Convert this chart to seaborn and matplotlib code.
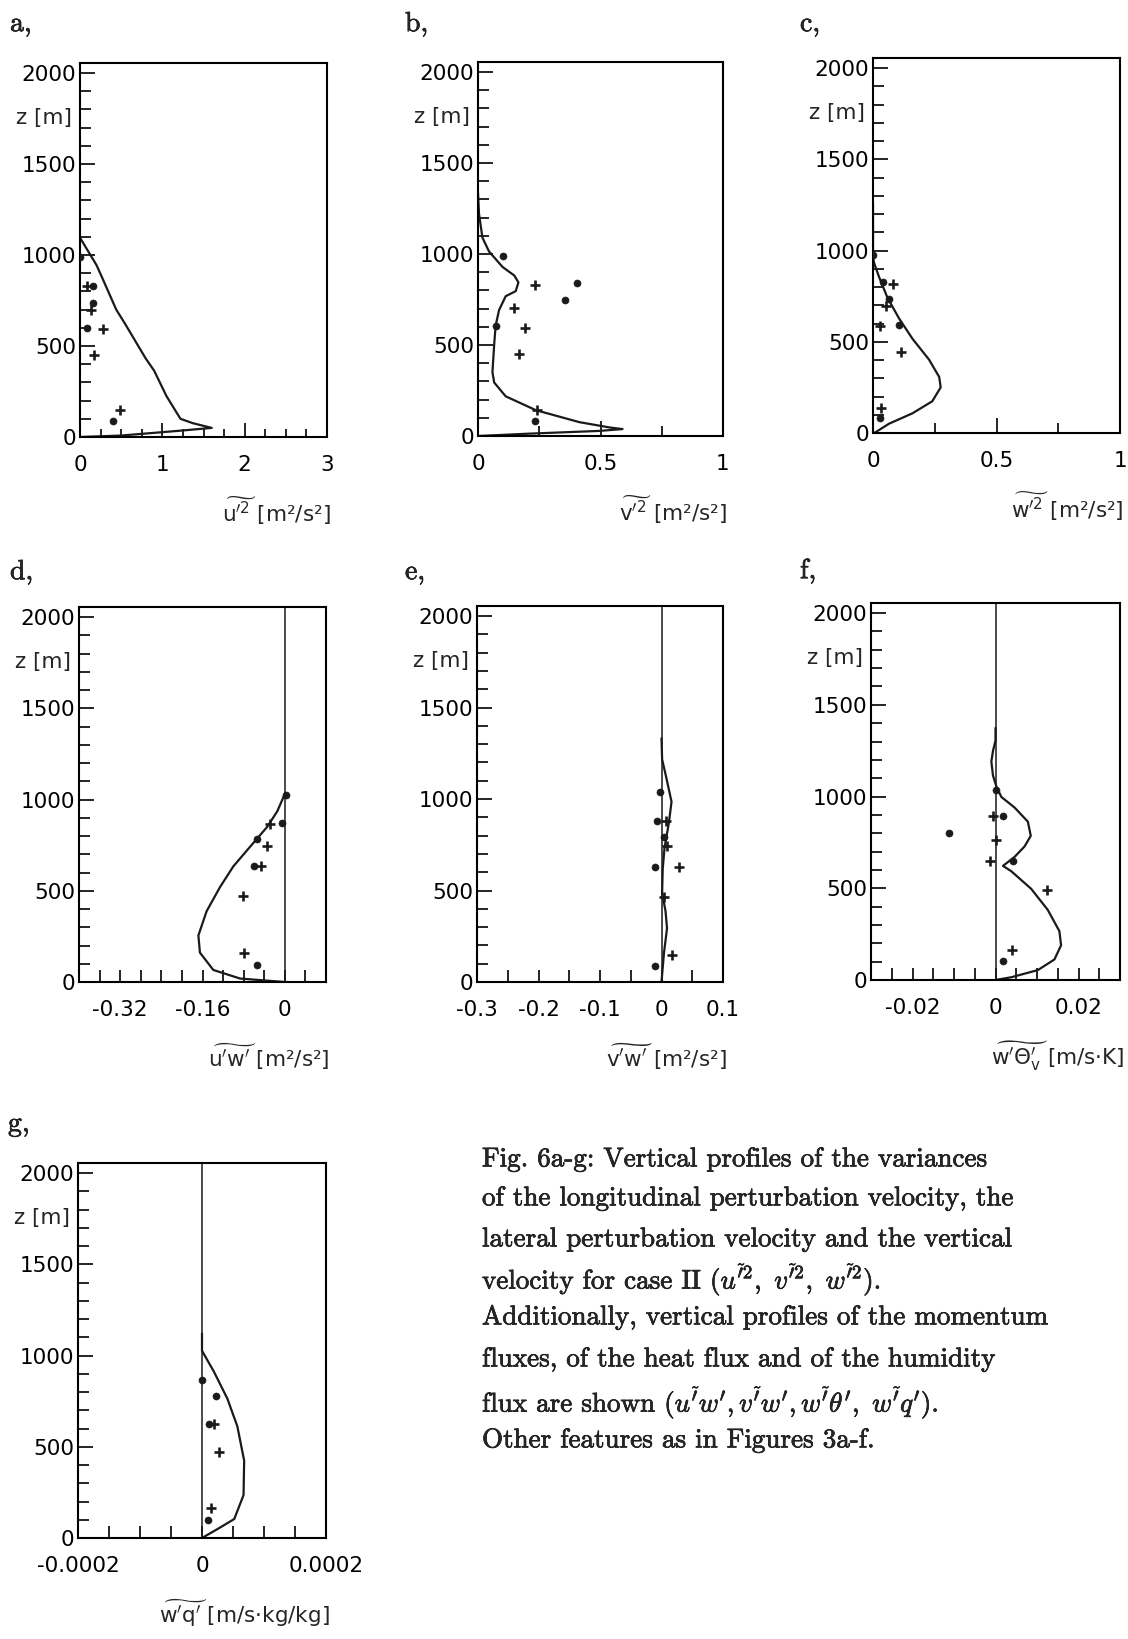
import numpy as np
import pandas as pd
import matplotlib
matplotlib.use('Agg')
import matplotlib.pyplot as plt
import matplotlib.patheffects as pe
import seaborn as sns

# ---- data (x value, height z in m) ----
# a, u'^2
a_line_x = [0, 0.2, 0.26, 0.44, 0.55, 0.8, 0.9, 1.05, 1.22, 1.37, 1.6, 1.2, 0.5, 0.0]
a_line_z = [1095, 945, 885, 700, 620, 430, 365, 225, 100, 76, 50, 34, 8, 0]
a_dot_x = [0.0, 0.16, 0.16, 0.09, 0.40]
a_dot_z = [990, 830, 735, 598, 87]
a_plus_x = [0.08, 0.13, 0.28, 0.17, 0.48]
a_plus_z = [830, 697, 593, 451, 148]

# b, v'^2
b_line_x = [0, 0.004, 0.018, 0.045, 0.10, 0.148, 0.165, 0.154, 0.113, 0.086, 0.072,
            0.066, 0.059, 0.066, 0.113, 0.236, 0.414, 0.537, 0.59, 0.496, 0.21, 0]
b_line_z = [1336, 1223, 1090, 1014, 929, 882, 844, 796, 768, 692, 607,
            502, 351, 294, 218, 142, 76, 47, 38, 28, 13, 0]
b_dot_x = [0.104, 0.403, 0.357, 0.072, 0.234]
b_dot_z = [990, 840, 749, 603, 82]
b_plus_x = [0.234, 0.148, 0.191, 0.169, 0.24]
b_plus_z = [828, 701, 593, 449, 142]

# c, w'^2
c_line_x = [0, 0, 0.004, 0.024, 0.058, 0.105, 0.16, 0.227, 0.268, 0.274, 0.24, 0.16, 0.065, 0.01, 0]
c_line_z = [1255, 970, 933, 857, 743, 629, 516, 402, 307, 250, 174, 108, 51, 4, 0]
c_dot_x = [0.0, 0.04, 0.065, 0.105, 0.027]
c_dot_z = [975, 825, 734, 592, 80]
c_plus_x = [0.081, 0.054, 0.027, 0.112, 0.031]
c_plus_z = [819, 696, 588, 444, 137]

# d, u'w'
d_line_x = [0, -0.0144, -0.034, -0.06, -0.1, -0.126, -0.152, -0.168, -0.165, -0.139, -0.087, 0]
d_line_z = [1031, 937, 851, 766, 634, 520, 388, 255, 161, 66, 19, 0]
d_dot_x = [0.002, -0.005, -0.055, -0.06, -0.054]
d_dot_z = [1027, 870, 785, 634, 95]
d_plus_x = [-0.028, -0.034, -0.047, -0.081, -0.08]
d_plus_z = [865, 747, 634, 473, 161]

# e, v'w'
e_line_x = [0, 0.001, 0.0076, 0.0163, 0.012, 0.005, 0.002, 0.001, 0.0065, 0.009, 0.004, 0]
e_line_z = [1332, 1217, 1120, 985, 870, 735, 620, 485, 389, 293, 158, 0]
e_dot_x = [-0.003, -0.007, 0.004, -0.011, -0.011]
e_dot_z = [1039, 880, 793, 629, 90]
e_plus_x = [0.008, 0.009, 0.028, 0.004, 0.017]
e_plus_z = [878, 745, 629, 466, 148]

# f, w'theta_v'
f_line_x = [0, 0, -0.0006, -0.001, -0.0006, 0.0002, 0.0014, 0.0046, 0.0078, 0.0085, 0.007,
            0.0046, 0.0018, 0.0038, 0.0086, 0.0126, 0.0154, 0.0158, 0.0142, 0.0102, 0.0038, 0]
f_line_z = [1374, 1306, 1249, 1191, 1114, 1056, 998, 940, 863, 786, 728,
            671, 622, 593, 497, 382, 266, 189, 112, 54, 15, 0]
f_dot_x = [0.0, 0.0018, -0.0111, 0.0042, 0.0017]
f_dot_z = [1037, 892, 800, 647, 102]
f_plus_x = [-0.0006, 0.0, -0.0014, 0.0125, 0.004]
f_plus_z = [892, 763, 647, 493, 166]

# g, w'q'
g_line_x = [0, 0, 1.9e-5, 4.1e-5, 5.7e-5, 6.8e-5, 6.7e-5, 5.2e-5, 2.4e-5, 0]
g_line_z = [1120, 1026, 913, 763, 612, 424, 235, 104, 47, 0]
g_dot_x = [0.0, 2.3e-5, 1.1e-5, 0.9e-5]
g_dot_z = [866, 778, 625, 100]
g_plus_x = [1.9e-5, 2.8e-5, 1.5e-5]
g_plus_z = [625, 471, 164]

caption = [
    "Fig. 6a-g: Vertical profiles of the variances",
    "of the longitudinal perturbation velocity, the",
    "lateral perturbation velocity and the vertical",
    r"velocity for case II $(u^{\tilde{\prime}2},\ v^{\tilde{\prime}2},\ w^{\tilde{\prime}2})$.",
    "Additionally, vertical profiles of the momentum",
    "fluxes, of the heat flux and of the humidity",
    r"flux are shown $(u^{\tilde{\prime}}w^{\prime},v^{\tilde{\prime}}w^{\prime},w^{\tilde{\prime}}\theta^{\prime},\ w^{\tilde{\prime}}q^{\prime})$.",
    "Other features as in Figures 3a-f.",
]

sns.set_theme(style='white', rc={'axes.edgecolor': 'black', 'axes.linewidth': 1.5,
                                 'xtick.color': 'black', 'ytick.color': 'black'})
plt.rcParams['font.family'] = ['DejaVu Sans']
plt.rcParams['axes.unicode_minus'] = False

W, H = 1128, 1639
fig = plt.figure(figsize=(W / 100, H / 100), dpi=100)
heavy = [pe.withStroke(linewidth=0.45, foreground='black')]


def panel(box, letter, lpos, lx, lz, dx, dz, px, pz, xlim, major, labels, minor,
          xlabel, zero=False, tlen=(10, 6)):
    x0, y0, x1, y1 = box
    ax = fig.add_axes([x0 / W, 1 - y1 / H, (x1 - x0) / W, (y1 - y0) / H])
    if zero:
        ax.axvline(0, color='k', lw=1.1)
    sns.lineplot(x=lx, y=lz, sort=False, estimator=None, color='k', lw=1.6, ax=ax)
    sns.scatterplot(x=dx, y=dz, marker='o', s=26, color='k', edgecolor='k', ax=ax, zorder=3)
    sns.scatterplot(x=px, y=pz, marker='+', s=45, color='k', linewidth=1.9, ax=ax, zorder=3)
    ax.set_xlim(*xlim)
    ax.set_ylim(0, 2055)
    ax.set_xticks(major, labels=labels)
    ax.set_xticks(minor, minor=True)
    ax.set_yticks([0, 500, 1000, 1500, 2000], labels=['0', '500', '1000', '1500', '2000'])
    ax.set_yticks(np.arange(100, 2000, 100), minor=True)
    ax.tick_params(axis='y', which='major', direction='in', length=11, width=1.2,
                   pad=3, labelsize=15.5, left=True)
    ax.tick_params(axis='y', which='minor', direction='in', length=8, width=1.2, left=True)
    ax.tick_params(axis='x', which='major', direction='in', length=tlen[0], width=1.2,
                   pad=13, labelsize=15.5, bottom=True)
    ax.tick_params(axis='x', which='minor', direction='in', length=tlen[1], width=1.2, bottom=True)
    ax.set_xlabel('')
    ax.set_ylabel('')
    ax.annotate('z [m]', xy=(0, 1755), xycoords=('axes fraction', 'data'),
                xytext=(-8, 0), textcoords='offset pixels', ha='right', va='center',
                fontsize=15.5)
    ax.annotate(xlabel, xy=(1, 0), xycoords='axes fraction', xytext=(4, -85),
                textcoords='offset pixels', ha='right', va='baseline', fontsize=15.5,
                math_fontfamily='dejavusans')
    fig.text(lpos[0] / W, 1 - lpos[1] / H, letter, family='cmr10', fontsize=20,
             ha='left', va='center', path_effects=heavy)
    return ax


panel((80, 63, 327, 437), 'a,', (10, 24), a_line_x, a_line_z, a_dot_x, a_dot_z,
      a_plus_x, a_plus_z, (0, 3), [0, 1, 2, 3], ['0', '1', '2', '3'],
      np.arange(0.25, 3, 0.25), r'$\widetilde{\mathrm{u^{\prime 2}}}$ [m²/s²]')
panel((478, 62, 723, 436), 'b,', (405, 24), b_line_x, b_line_z, b_dot_x, b_dot_z,
      b_plus_x, b_plus_z, (0, 1), [0, 0.5, 1], ['0', '0.5', '1'], [0.25, 0.75],
      r'$\widetilde{\mathrm{v^{\prime 2}}}$ [m²/s²]', tlen=(11, 7))
panel((873, 58, 1120, 433), 'c,', (800, 24), c_line_x, c_line_z, c_dot_x, c_dot_z,
      c_plus_x, c_plus_z, (0, 1), [0, 0.5, 1], ['0', '0.5', '1'], [0.25, 0.75],
      r'$\widetilde{\mathrm{w^{\prime 2}}}$ [m²/s²]', tlen=(11, 7))

d_ticks = np.round(np.arange(-0.36, 0.05, 0.04), 2)
panel((79, 607, 326, 982), 'd,', (10, 572), d_line_x, d_line_z, d_dot_x, d_dot_z,
      d_plus_x, d_plus_z, (-0.40, 0.08), d_ticks,
      [{-0.32: '-0.32', -0.16: '-0.16', 0.0: '0'}.get(t, '') for t in d_ticks], [],
      r"$\widetilde{\mathrm{u^{\prime}w^{\prime}}}$ [m²/s²]", zero=True, tlen=(9, 0))

e_ticks = np.round(np.arange(-0.3, 0.11, 0.05), 2)
panel((477, 606, 723, 982), 'e,', (405, 572), e_line_x, e_line_z, e_dot_x, e_dot_z,
      e_plus_x, e_plus_z, (-0.3, 0.1), e_ticks,
      [{-0.3: '-0.3', -0.2: '-0.2', -0.1: '-0.1', 0.0: '0', 0.1: '0.1'}.get(t, '') for t in e_ticks], [],
      r"$\widetilde{\mathrm{v^{\prime}w^{\prime}}}$ [m²/s²]", zero=True, tlen=(9, 0))

f_ticks = np.round(np.arange(-0.025, 0.026, 0.005), 3)
panel((871, 603, 1120, 980), 'f,', (800, 571), f_line_x, f_line_z, f_dot_x, f_dot_z,
      f_plus_x, f_plus_z, (-0.03, 0.03), f_ticks,
      [{-0.02: '-0.02', 0.0: '0', 0.02: '0.02'}.get(t, '') for t in f_ticks], [],
      r"$\widetilde{\mathrm{w^{\prime}\Theta^{\prime}_{v}}}$ [m/s·K]", zero=True, tlen=(9, 0))

g_ticks = np.round(np.arange(-0.0002, 0.00021, 0.00005), 5)
panel((78, 1163, 326, 1538), 'g,', (8, 1124), g_line_x, g_line_z, g_dot_x, g_dot_z,
      g_plus_x, g_plus_z, (-0.0002, 0.0002), g_ticks,
      [{-0.0002: '-0.0002', 0.0: '0', 0.0002: '0.0002'}.get(t, '') for t in g_ticks], [],
      r"$\widetilde{\mathrm{w^{\prime}q^{\prime}}}$ [m/s·kg/kg]", zero=True, tlen=(9, 0))

cap_y = [1157, 1196, 1237, 1275, 1315, 1357, 1398, 1438]
for line, y in zip(caption, cap_y):
    fig.text(482 / W, 1 - y / H, line, family='cmr10', fontsize=19.5,
             math_fontfamily='cm', ha='left', va='center_baseline', path_effects=heavy)

fig.savefig('out.png', dpi=100, facecolor='white')
